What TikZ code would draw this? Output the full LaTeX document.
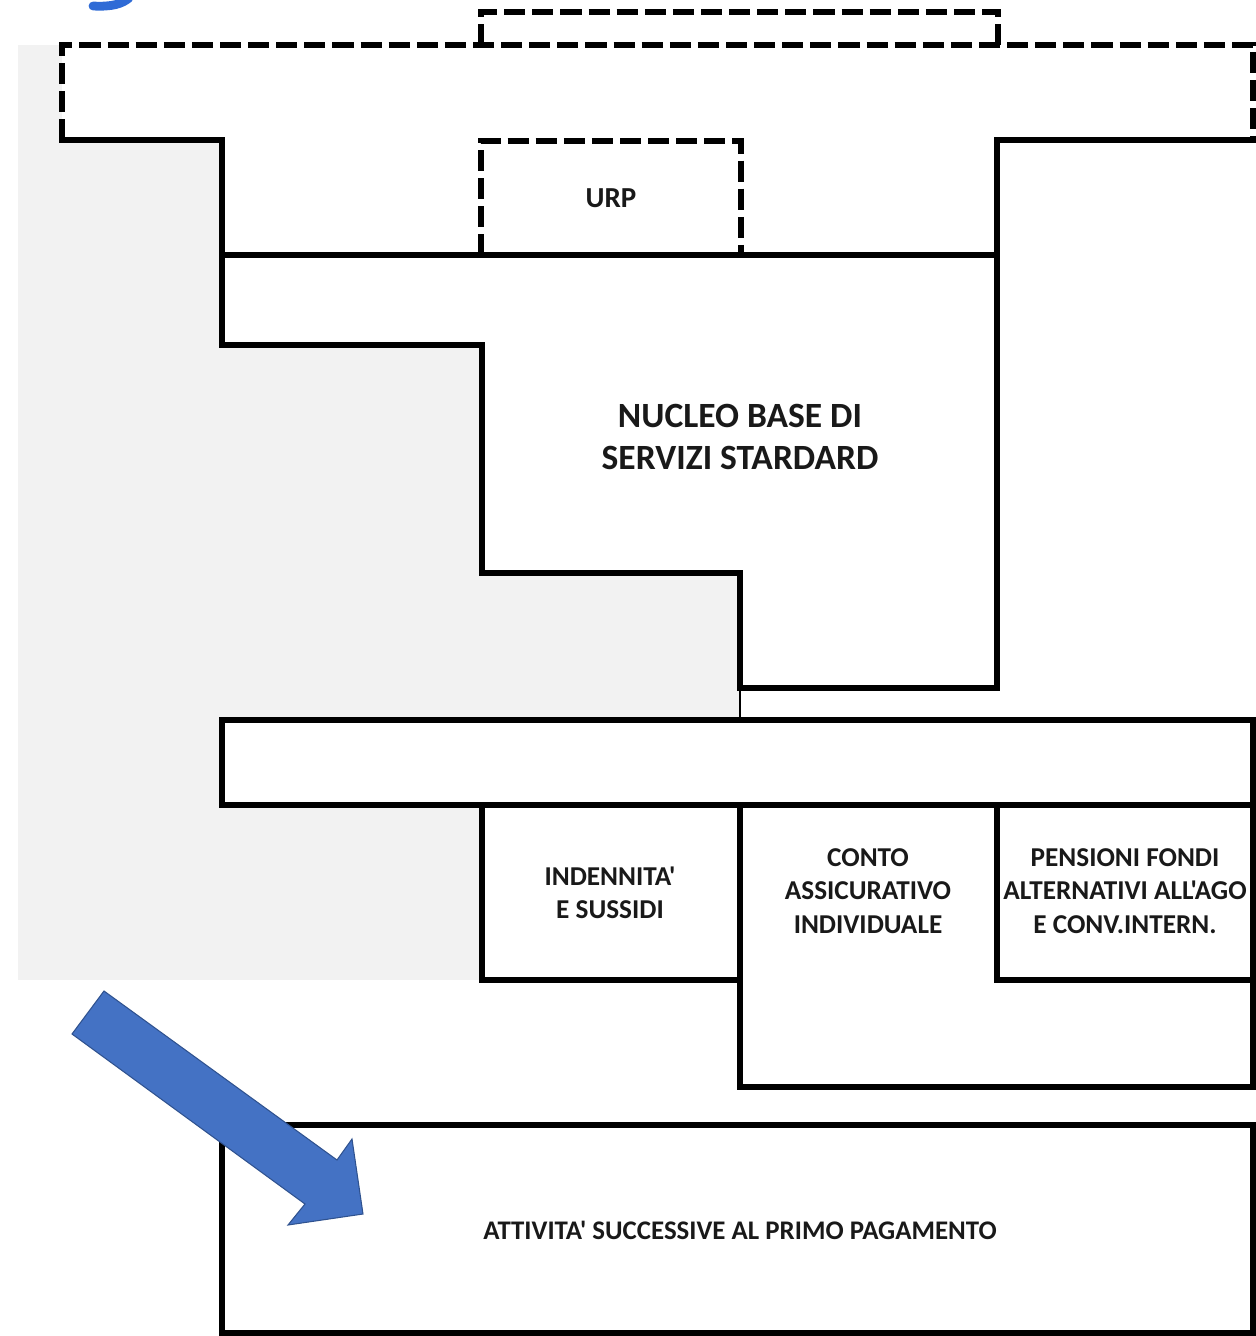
\documentclass[tikz,border=0pt]{standalone}
\usepackage{fontspec}
\setmainfont{Carlito}[Ligatures=TeXOff]
\definecolor{panelgray}{HTML}{F2F2F2}
\definecolor{arrowblue}{HTML}{4472C4}
\definecolor{arrowedge}{HTML}{2F528F}
\definecolor{markblue}{HTML}{2F6BD6}
\begin{document}
\begin{tikzpicture}[x=0.02cm,y=-0.02cm,
  wall/.style={line width=3pt, line join=miter, line cap=rect},
  dashwall/.style={line width=3pt, dash pattern=on 12pt off 4pt},
  thinwall/.style={line width=1.2pt},
  lbl/.style={font=\fontsize{15.5}{19}\selectfont\bfseries, align=center, inner sep=0pt, text=black!90},
  urplbl/.style={font=\fontsize{16.5}{19}\selectfont\bfseries, align=center, inner sep=0pt, text=black!90},
  biglbl/.style={font=\fontsize{20.2}{24.4}\selectfont\bfseries, align=center, inner sep=0pt, text=black!90},
  longlbl/.style={font=\fontsize{15.3}{17}\selectfont\bfseries, align=center, inner sep=0pt, text=black!90}]
\useasboundingbox (0,0) rectangle (1256,1336);
\clip (0,0) rectangle (1256,1336);

% grey backdrop on the left
\fill[panelgray] (18,45) rectangle (740,980);

% blue stroke cut by the top edge
\draw[markblue, line width=5pt, line cap=round] (93,6) .. controls (112,7) and (122,4) .. (129,-2);

% white body of the upper block
\fill[white] (62,45) -- (1253,45) -- (1253,140) -- (997,140) -- (997,688)
  -- (740,688) -- (740,573) -- (482,573) -- (482,345) -- (222,345)
  -- (222,140) -- (62,140) -- cycle;

% upper block outline
\draw[wall] (62,140) -- (222,140) -- (222,345) -- (482,345) -- (482,573)
  -- (740,573) -- (740,688) -- (997,688) -- (997,140) -- (1253,140);
\draw[wall] (222,255) -- (997,255);
\draw[dashwall] (62,140) -- (62,45) -- (1253,45) -- (1253,140);
\draw[dashwall] (481,45) -- (481,12) -- (998,12) -- (998,45);
\draw[dashwall] (481,255) -- (481,141) -- (741,141) -- (741,255);

\node[urplbl] (urp) at (611,198) {URP};
\node[biglbl] (nucleo) at (740,437) {NUCLEO BASE DI\\SERVIZI STARDARD};

% lower block
\draw[wall, fill=white] (222,720) rectangle (1253,805);
\draw[wall, fill=white] (482,805) rectangle (740,980);
\draw[wall, fill=white] (997,805) rectangle (1253,980);
\draw[wall] (740,805) -- (740,1087) -- (1253,1087) -- (1253,980);

\coordinate (tickTop) at (740,690);
\coordinate (tickBot) at (740,720);
\draw[thinwall] (tickTop) -- (tickBot);

\node[lbl] (indennita) at (610,893) {INDENNITA'\\E SUSSIDI};
\node[lbl] (conto) at (868,891) {CONTO\\ASSICURATIVO\\INDIVIDUALE};
\node[lbl] (pensioni) at (1125,891) {PENSIONI FONDI\\ALTERNATIVI ALL'AGO\\E CONV.INTERN.};

% bottom box
\draw[wall] (222,1125) rectangle (1253,1333);
\node[longlbl] (attivita) at (740,1230) {ATTIVITA' SUCCESSIVE AL PRIMO PAGAMENTO};

% block arrow
\draw[arrowedge, fill=arrowblue, line width=0.6pt, line join=miter]
  (104,991) -- (72,1034) -- (305,1204) -- (288,1225) -- (363,1214)
  -- (352,1139) -- (337,1160) -- cycle;
\end{tikzpicture}
\end{document}
